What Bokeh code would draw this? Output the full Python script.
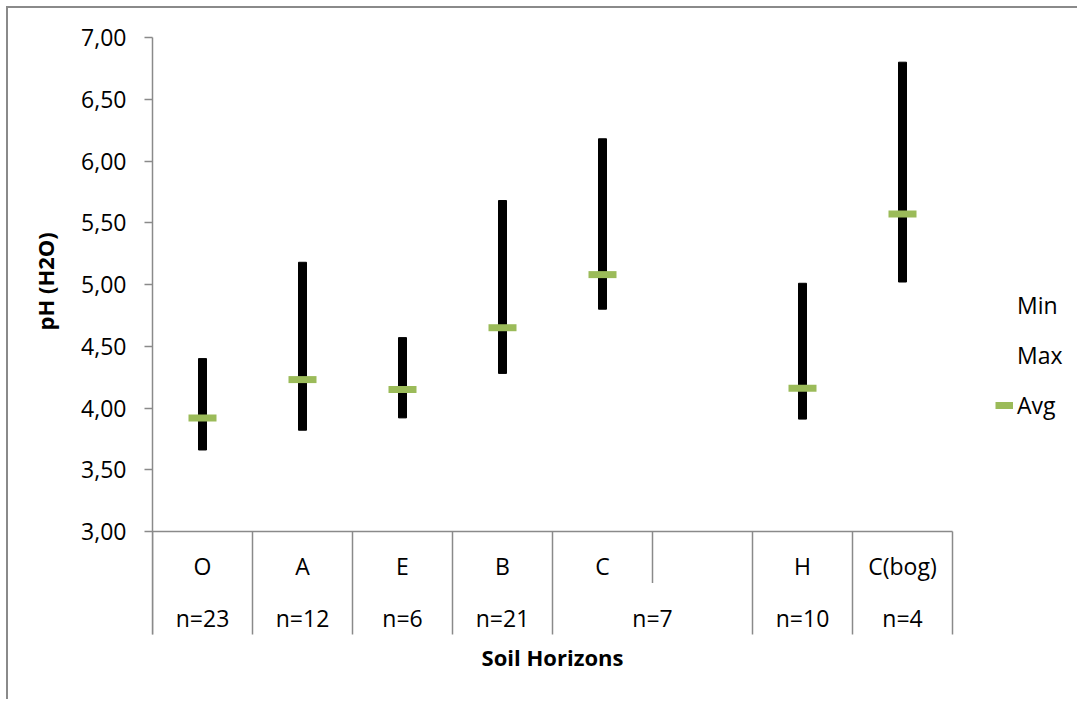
from bokeh.plotting import figure
from bokeh.models import (Range1d, FixedTicker, Legend, LegendItem, Title, ColumnDataSource)
from bokeh.embed import file_html
from bokeh.resources import INLINE
from bokeh.core.properties import value

# ---------------- data ----------------
HORIZONS = ["O", "A", "E", "B", "C", " ", "H", "C(bog)"]
N_LABELS = ["n=23", "n=12", "n=6", "n=21", "n=7", "n=7", "n=10", "n=4"]
PH_MIN = [3.66, 3.82, 3.92, 4.28, 4.80, None, 3.91, 5.02]
PH_MAX = [4.40, 5.18, 4.57, 5.68, 6.18, None, 5.01, 6.80]
PH_AVG = [3.92, 4.23, 4.15, 4.65, 5.08, None, 4.16, 5.57]
Y_TICKS = [3.0, 3.5, 4.0, 4.5, 5.0, 5.5, 6.0, 6.5, 7.0]
Y_TICK_LABELS = ["3,00", "3,50", "4,00", "4,50", "5,00", "5,50", "6,00", "6,50", "7,00"]
SERIES = ["Min", "Max", "Avg"]
X_TITLE = "Soil Horizons"
Y_TITLE = "pH (H2O)"

# ---------------- styling / layout constants ----------------
FONT = "Open Sans"
FS = "23px"
FS_TITLE = "22px"
GREY = "#8a8a8a"
GREEN = "#9bbb59"
Y_MIN_AXIS = 3.0
Y_MAX_AXIS = 7.0
Y_TABLE_BOTTOM = 2.166     # bottom of the category table below the axis
Y_FRAME_BOTTOM = 1.6235
ROW1_Y = 2.717
ROW2_Y = 2.30
TITLE_Y = 1.98
X_END = 9.27               # frame extends to the right edge (room for legend)
BAR_W = 0.08
AVG_HALF = 0.14

n = len(HORIZONS)
slot_x = [i + 0.5 for i in range(n)]

groups, group_x = [], []
for g in N_LABELS:
    if g not in groups:
        groups.append(g)
        idx = [i for i in range(n) if N_LABELS[i] == g]
        group_x.append(sum(slot_x[i] for i in idx) / len(idx))

valid = [i for i in range(n) if PH_AVG[i] is not None]
src = ColumnDataSource(dict(
    x=[slot_x[i] for i in valid],
    x0=[slot_x[i] - AVG_HALF for i in valid],
    x1=[slot_x[i] + AVG_HALF for i in valid],
    lo=[PH_MIN[i] for i in valid],
    hi=[PH_MAX[i] for i in valid],
    avg=[PH_AVG[i] for i in valid],
))

p = figure(
    width=1071, height=693,
    x_range=Range1d(0, X_END),
    y_range=Range1d(Y_FRAME_BOTTOM, Y_MAX_AXIS),
    x_axis_location=None,
    output_backend="svg", toolbar_location=None,
    min_border_left=144, min_border_right=0,
    min_border_top=29, min_border_bottom=0,
)
p.styles = {"border-left": f"2px solid {GREY}", "border-top": f"2px solid {GREY}",
            "margin-left": "6px", "margin-top": "6px"}
p.outline_line_color = None
p.grid.visible = False
p.background_fill_color = "white"
p.border_fill_color = "white"

# y axis
ya = p.yaxis[0]
ya.bounds = (Y_TABLE_BOTTOM, Y_MAX_AXIS)
ya.ticker = FixedTicker(ticks=Y_TICKS)
ya.major_label_overrides = dict(zip(Y_TICKS, Y_TICK_LABELS))
ya.major_tick_out = 8
ya.major_tick_in = 0
ya.minor_tick_line_color = None
ya.axis_line_color = GREY
ya.axis_line_width = 1.5
ya.major_tick_line_color = GREY
ya.major_tick_line_width = 1.5
ya.major_label_standoff = 18
ya.major_label_text_font = FONT
ya.major_label_text_font_size = FS
ya.major_label_text_color = "black"

# horizontal category axis line at 3.00
p.segment(x0=[0], x1=[n], y0=[Y_MIN_AXIS], y1=[Y_MIN_AXIS], line_color=GREY, line_width=1.5)

# category table separators at slot edges
sx, sy1 = [], []
for b in range(n + 1):
    full = b == 0 or b == n or N_LABELS[b - 1] != N_LABELS[b]
    sx.append(b)
    sy1.append(Y_TABLE_BOTTOM if full else (Y_MIN_AXIS + Y_TABLE_BOTTOM) / 2)
p.segment(x0=sx, x1=sx, y0=[Y_MIN_AXIS] * len(sx), y1=sy1,
          line_color=GREY, line_width=1.5)

# category labels
p.text(x=slot_x, y=[ROW1_Y] * n, text=HORIZONS,
       text_font=value(FONT), text_font_size=FS, text_align="center",
       text_baseline="middle", text_color="black")
p.text(x=group_x, y=[ROW2_Y] * len(groups), text=groups,
       text_font=value(FONT), text_font_size=FS, text_align="center",
       text_baseline="middle", text_color="black")
p.text(x=[n / 2], y=[TITLE_Y], text=[X_TITLE],
       text_font=value(FONT), text_font_size=FS_TITLE, text_font_style="bold",
       text_align="center", text_baseline="middle", text_color="black")

# data marks
p.vbar(x="x", bottom="lo", top="hi", width=BAR_W, source=src,
       fill_color="black", line_color="black")
r_min = p.scatter(x="x", y="lo", source=src, size=1, alpha=0)
r_max = p.scatter(x="x", y="hi", source=src, size=1, alpha=0)
r_avg = p.segment(x0="x0", x1="x1", y0="avg", y1="avg", source=src,
                  line_color=GREEN, line_width=7, line_cap="butt")

legend = Legend(
    items=[LegendItem(label=SERIES[0], renderers=[r_min]),
           LegendItem(label=SERIES[1], renderers=[r_max]),
           LegendItem(label=SERIES[2], renderers=[r_avg])],
    location=(843, 280), padding=0, margin=0, spacing=18,
    glyph_width=18, glyph_height=20, label_height=20, label_standoff=4,
    border_line_color=None, background_fill_alpha=0,
    label_text_font=FONT, label_text_font_size=FS, label_text_color="black",
)
p.add_layout(legend, "center")

# y axis title
p.add_layout(Title(text=Y_TITLE, align="left", offset=371, text_font=FONT,
                   text_font_size=FS_TITLE, text_font_style="bold", text_color="black",
                   standoff=38), "left")

open("out.html", "w").write(file_html(p, INLINE))
